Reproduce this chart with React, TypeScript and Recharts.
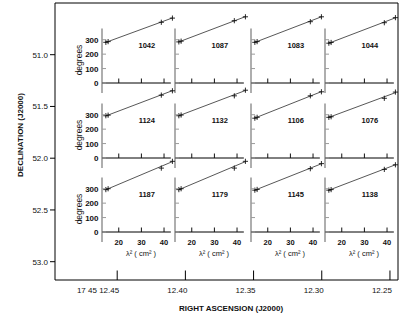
import React from "react";
import {
  ComposedChart,
  Line,
  Scatter,
  XAxis,
  YAxis,
  ReferenceLine,
  ReferenceDot,
  ReferenceArea,
} from "recharts";

// ─── Data ──────────────────────────────────────────────────────────────────────

// wavelength² of the four bands (cm²), shared by every panel
const lambdaSq = [14.3, 15.3, 38.8, 43.7];
const fitLambdaSq = [14.0, 43.7];

// rotation measure printed in each panel, row by row
const rmLabels = [
  "1042", "1087", "1083", "1044",
  "1124", "1132", "1106", "1076",
  "1187", "1179", "1145", "1138",
];

// measured position angles (degrees) at each λ², one small list per panel
const panelAngles = [
  [282, 287, 421, 450],
  [285, 290, 432, 459],
  [282, 287, 425, 459],
  [276, 281, 418, 453],
  [293, 297, 436, 466],
  [293, 298, 431, 470],
  [276, 282, 431, 459],
  [282, 286, 414, 457],
  [294, 300, 443, 490],
  [294, 300, 443, 490],
  [290, 295, 439, 474],
  [290, 294, 434, 466],
];

// fitted line, value at the two ends of fitLambdaSq
const fitLow = [280, 283, 280, 274, 290, 291, 275, 280, 291, 291, 288, 288];
const fitHigh = [451, 460, 459, 452, 467, 468, 460, 453, 488, 488, 473, 466];

const degreeTicks = [0, 100, 200, 300];
const lambdaTicks = [20, 30, 40];
const decTicks = [51.0, 51.5, 52.0, 52.5, 53.0];
const raTicks = [12.45, 12.4, 12.35, 12.3, 12.25];
const raTickLabels = ["17 45 12.45", "12.40", "12.35", "12.30", "12.25"];

// ─── Layout ────────────────────────────────────────────────────────────────────

const FONT = "'Liberation Sans', Arial, Helvetica, sans-serif";
const W = 409;
const H = 318;

const RA_DOMAIN = [12.2441, 12.4956];
const DEC_DOMAIN = [50.5005, 53.1768];

// where each small panel's y-axis and zero line sit on the page
const PANEL_AXIS_X = [102, 175.2, 250.6, 325.3];
const PANEL_ZERO_Y = [83.3, 157.5, 232];
const PANEL_PLOT_W = 72;
const PANEL_PLOT_H = 75;
const PANEL_YAXIS_W = 30;
const PANEL_TOP = 4;
const PANEL_RIGHT = 4;
const PANEL_BOTTOM = 30;

const LAMBDA_DOMAIN = [12.6, 44.4];
const DEG_DOMAIN = [0, 520];
const DEG_AXIS_RANGE = [-70, 378]; // visible extent of the grey y-axis
const LAMBDA_AXIS_END = 43.0;
const RM_LABEL_AT = { l: 32.4, deg: 262 };

const AXIS_GREY = "#9a9a9a";

// ─── Small pieces ──────────────────────────────────────────────────────────────

const PlusMark = (props: any) => {
  const { cx, cy } = props;
  if (cx == null || cy == null) return null;
  const s = 2.6;
  return (
    <path
      d={`M${cx - s},${cy}H${cx + s}M${cx},${cy - s}V${cy + s}`}
      stroke="#111"
      strokeWidth={0.9}
      fill="none"
    />
  );
};

const NoMark = () => null;

// y ticks point inward (right), labels only on the first column
const renderDegTick = (props: any, showLabel: boolean) => {
  const { x, y, payload } = props;
  return (
    <g>
      <line x1={x} x2={x + 4} y1={y} y2={y} stroke={AXIS_GREY} strokeWidth={1} />
      {showLabel && (
        <text
          x={x - 3.5}
          y={y + 3}
          textAnchor="end"
          fontSize={8}
          fontFamily={FONT}
          fontWeight={600}
          fill="#111"
        >
          {payload.value}
        </text>
      )}
    </g>
  );
};

// x ticks point up from the zero line, labels only on the bottom row
const renderLambdaTick = (props: any, showLabel: boolean) => {
  const { x, y, payload } = props;
  return (
    <g>
      <line x1={x} x2={x} y1={y} y2={y - 4.5} stroke="#111" strokeWidth={1} />
      {showLabel && (
        <text
          x={x}
          y={y + 12.5}
          textAnchor="middle"
          fontSize={7.5}
          fontFamily={FONT}
          fontWeight={600}
          fill="#111"
        >
          {payload.value}
        </text>
      )}
    </g>
  );
};

const LambdaTitle = ({ viewBox }: any) => (
  <text
    x={viewBox.x + 39}
    y={viewBox.y + 24}
    textAnchor="middle"
    fontSize={7.5}
    fontFamily={FONT}
    fill="#111"
  >
    λ²  ( cm² )
  </text>
);

const DegreesTitle = ({ viewBox }: any) => {
  const x = viewBox.x + viewBox.width - 20;
  const y = viewBox.y + viewBox.height - 23;
  return (
    <text
      x={x}
      y={y}
      transform={`rotate(-90, ${x}, ${y})`}
      textAnchor="middle"
      fontSize={8.5}
      fontFamily={FONT}
      fill="#111"
    >
      degrees
    </text>
  );
};

// ─── One λ² panel ──────────────────────────────────────────────────────────────

function Panel({ index }: { index: number }) {
  const col = index % 4;
  const row = Math.floor(index / 4);
  const firstCol = col === 0;
  const lastRow = row === 2;

  const points = lambdaSq.map((l, i) => ({ l, deg: panelAngles[index][i] }));
  const fit = [
    { l: fitLambdaSq[0], deg: fitLow[index] },
    { l: fitLambdaSq[1], deg: fitHigh[index] },
  ];

  const width = PANEL_YAXIS_W + PANEL_PLOT_W + PANEL_RIGHT;
  const height = PANEL_TOP + PANEL_PLOT_H + PANEL_BOTTOM;

  return (
    <div
      style={{
        position: "absolute",
        left: PANEL_AXIS_X[col] - PANEL_YAXIS_W,
        top: PANEL_ZERO_Y[row] - PANEL_PLOT_H - PANEL_TOP,
      }}
    >
      <ComposedChart
        width={width}
        height={height}
        margin={{ top: PANEL_TOP, right: PANEL_RIGHT, bottom: PANEL_BOTTOM - 1, left: 0 }}
      >
        <XAxis
          type="number"
          dataKey="l"
          domain={LAMBDA_DOMAIN}
          ticks={lambdaTicks}
          interval={0}
          height={1}
          axisLine={false}
          tickLine={false}
          tickSize={0}
          tickMargin={0}
          tick={(p: any) => renderLambdaTick(p, lastRow)}
          label={lastRow ? LambdaTitle : undefined}
        />
        <YAxis
          type="number"
          dataKey="deg"
          domain={DEG_DOMAIN}
          ticks={degreeTicks}
          interval={0}
          width={PANEL_YAXIS_W}
          axisLine={false}
          tickLine={false}
          tickSize={0}
          tickMargin={0}
          tick={(p: any) => renderDegTick(p, firstCol)}
          label={firstCol ? DegreesTitle : undefined}
        />
        <ReferenceLine
          segment={[
            { x: LAMBDA_DOMAIN[0], y: DEG_AXIS_RANGE[0] },
            { x: LAMBDA_DOMAIN[0], y: DEG_AXIS_RANGE[1] },
          ]}
          stroke={AXIS_GREY}
          strokeWidth={1.6}
          ifOverflow="visible"
        />
        <ReferenceLine
          segment={[
            { x: LAMBDA_DOMAIN[0], y: 0 },
            { x: LAMBDA_AXIS_END, y: 0 },
          ]}
          stroke="#000"
          strokeWidth={1}
          ifOverflow="visible"
        />
        <Line
          data={fit}
          dataKey="deg"
          stroke="#444"
          strokeWidth={0.9}
          dot={false}
          isAnimationActive={false}
        />
        <Scatter
          data={points}
          dataKey="deg"
          shape={PlusMark}
          isAnimationActive={false}
        />
        <ReferenceDot
          x={RM_LABEL_AT.l}
          y={RM_LABEL_AT.deg}
          r={0}
          fill="none"
          stroke="none"
          label={{
            value: rmLabels[index],
            position: "center",
            fontSize: 7.5,
            fontWeight: 700,
            fontFamily: FONT,
            fill: "#111",
          }}
        />
      </ComposedChart>
    </div>
  );
}

// ─── Outer RA / Dec frame ──────────────────────────────────────────────────────

const renderRaTick = (props: any) => {
  const { x, y, index } = props;
  return (
    <g>
      <line x1={x} x2={x} y1={y} y2={y - 9.5} stroke="#000" strokeWidth={1} />
      <text
        x={x + 2}
        y={y + 12.5}
        textAnchor="end"
        fontSize={8}
        fontFamily={FONT}
        fill="#111"
      >
        {raTickLabels[index]}
      </text>
    </g>
  );
};

const RaTitle = ({ viewBox }: any) => (
  <text
    x={viewBox.x + 176}
    y={viewBox.y + 31}
    textAnchor="middle"
    fontSize={8}
    fontWeight={700}
    fontFamily={FONT}
    fill="#111"
  >
    RIGHT ASCENSION (J2000)
  </text>
);

const DecTitle = ({ viewBox }: any) => {
  const x = viewBox.x + 23;
  const y = viewBox.y + 132;
  return (
    <text
      x={x}
      y={y}
      transform={`rotate(-90, ${x}, ${y})`}
      textAnchor="middle"
      fontSize={8}
      fontWeight={700}
      fontFamily={FONT}
      fill="#111"
    >
      DECLINATION (J2000)
    </text>
  );
};

function Frame() {
  // the tick grid gives the frame axes something to read their keys from
  const frameData = raTicks.map((ra, i) => ({ ra, dec: decTicks[i] }));
  return (
    <ComposedChart
      width={W}
      height={H}
      data={frameData}
      margin={{ top: 3, right: 11, bottom: 0, left: 0 }}
    >
      <XAxis
        type="number"
        dataKey="ra"
        domain={RA_DOMAIN}
        reversed
        allowDataOverflow
        ticks={raTicks}
        interval={0}
        height={38}
        axisLine={false}
        tickLine={false}
        tickSize={0}
        tickMargin={0}
        tick={renderRaTick}
        label={RaTitle}
      />
      <YAxis
        type="number"
        dataKey="dec"
        domain={DEC_DOMAIN}
        reversed
        allowDataOverflow
        ticks={decTicks}
        interval={0}
        width={55}
        axisLine={false}
        tickLine={{ stroke: "#000" }}
        tickSize={5}
        tickMargin={2}
        tickFormatter={(v: number) => v.toFixed(1)}
        tick={{ fontSize: 8, fontFamily: FONT, fill: "#111" }}
        label={DecTitle}
      />
      <YAxis
        yAxisId="right"
        orientation="right"
        type="number"
        dataKey="dec"
        domain={DEC_DOMAIN}
        reversed
        allowDataOverflow
        ticks={decTicks}
        interval={0}
        width={1}
        mirror
        tick={false}
        tickSize={4}
        axisLine={false}
        tickLine={{ stroke: "#000" }}
      />
      <Scatter dataKey="dec" shape={NoMark} isAnimationActive={false} />
      <Scatter yAxisId="right" dataKey="dec" shape={NoMark} isAnimationActive={false} />
      <ReferenceArea
        x1={RA_DOMAIN[0]}
        x2={RA_DOMAIN[1]}
        y1={DEC_DOMAIN[0]}
        y2={DEC_DOMAIN[1]}
        fill="none"
        stroke="#000"
        strokeWidth={1}
        ifOverflow="visible"
      />
    </ComposedChart>
  );
}

// ─── App ───────────────────────────────────────────────────────────────────────

export default function App() {
  return (
    <div
      style={{
        position: "absolute",
        left: 0,
        top: 0,
        width: W,
        height: H,
        background: "#fff",
        overflow: "hidden",
      }}
    >
      <div style={{ position: "absolute", left: 0, top: 0 }}>
        <Frame />
      </div>
      {rmLabels.map((_, i) => (
        <Panel key={i} index={i} />
      ))}
    </div>
  );
}
